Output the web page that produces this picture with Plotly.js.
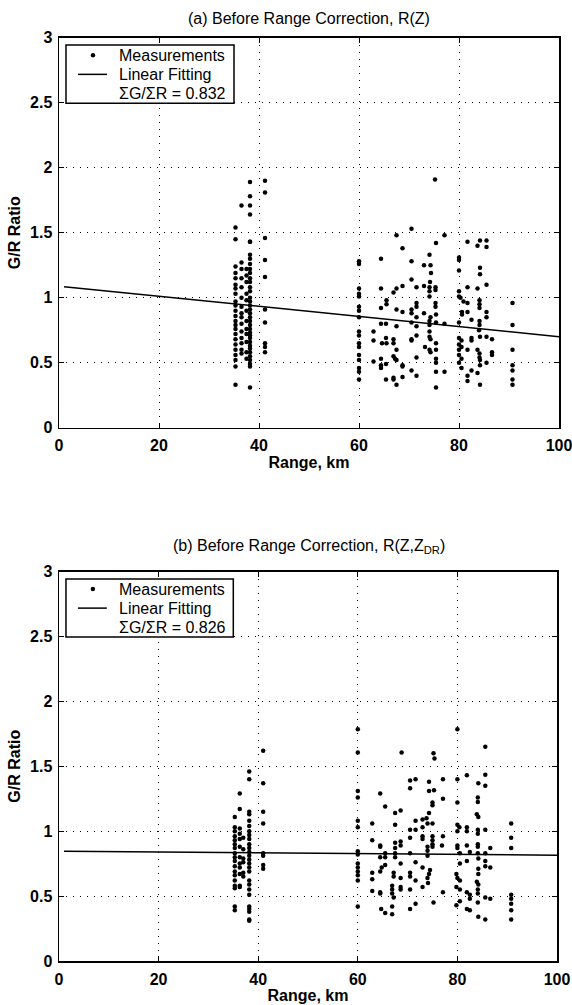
<!DOCTYPE html>
<html>
<head>
<meta charset="utf-8">
<script src="https://cdn.plot.ly/plotly-3.0.1.min.js"></script>
<style>html,body{margin:0;padding:0;background:#fff;}#chart{width:572px;height:1005px;}</style>
</head>
<body>
<div id="chart"></div>
<script>
// ---------- DATA ----------
// (a) R(Z): columns of measurements near 35-41 km
const topNearRange = [35.3, 36.5, 37.5, 38.2, 41.2];
const topNearRatio = [
  [1.54, 1.45, 1.24, 1.19, 1.15, 1.1, 1.07, 1.03, 0.97, 0.94, 0.9, 0.86, 0.82, 0.79, 0.76, 0.72, 0.68, 0.64, 0.6, 0.56, 0.52, 0.47, 0.33],
  [1.71, 1.27, 1.22, 1.15, 1.08, 1.0, 0.93, 0.88, 0.85, 0.8, 0.74, 0.69, 0.65, 0.6, 0.57],
  [1.22, 1.17, 1.12, 1.03, 0.98, 0.9, 0.82, 0.76, 0.72, 0.66, 0.58, 0.53],
  [1.89, 1.78, 1.71, 1.64, 1.43, 1.43, 1.33, 1.3, 1.26, 1.22, 1.19, 1.15, 1.12, 1.08, 1.05, 1.0, 0.97, 0.94, 0.91, 0.88, 0.85, 0.82, 0.79, 0.76, 0.73, 0.71, 0.69, 0.66, 0.63, 0.61, 0.58, 0.55, 0.52, 0.49, 0.47, 0.31],
  [1.90, 1.81, 1.46, 1.29, 1.16, 0.91, 0.81, 0.65, 0.62, 0.58]
];
// (a) R(Z): measurements 60-91 km, [range, ratio]
const topFarPoints = [
  [75.2,1.91],[70.5,1.53],[77.1,1.48],[67.5,1.48],[68.7,1.38],[75.4,1.42],
  [60,1.28],[60,1.26],[64.4,1.30],[70.5,1.28],[74.1,1.33],[73,1.25],[74.3,1.25],[74.4,1.19],[70.5,1.14],[74.2,1.12],
  [60,1.07],[60,1.03],[60,1.01],[64.4,1.07],[66.9,1.04],[67.5,1.07],[68.7,1.09],[71.5,1.08],[73,1.09],[74.1,1.08],[74.1,1.05],[74.1,1.01],[75.3,1.08],[75.3,1.06],[75.3,0.96],[75.3,0.93],
  [65.5,0.98],[65.5,0.95],[64.4,0.92],[67.5,0.91],[68.7,0.89],[70.5,0.91],[70.5,0.88],[71.5,0.96],[71.5,0.93],[71.5,0.85],[73,0.88],[74.3,0.85],[75.4,0.87],
  [60,0.93],[60,0.90],[60,0.85],[64.4,0.80],[65.4,0.80],[67.5,0.78],[70.5,0.81],[71.5,0.78],[74.1,0.82],[74.1,0.79],[75.4,0.81],[77.1,0.80],
  [60,0.74],[60,0.71],[60,0.65],[60,0.62],[62.9,0.74],[62.9,0.67],[65.4,0.69],[64.6,0.65],[65.5,0.65],[66.9,0.68],[66.9,0.65],[70.5,0.68],[70.5,0.67],[71.5,0.71],[74.1,0.74],[74.1,0.70],[74.3,0.68],[75.4,0.65],[73.2,0.62],[74.1,0.60],[74.3,0.58],[75.4,0.60],[67.5,0.60],
  [66.9,0.55],[67.2,0.53],[67.5,0.52],[60,0.56],[60,0.52],[62.9,0.51],[64.4,0.53],[64.4,0.48],[64.4,0.46],[65.4,0.49],[68.7,0.48],[68.7,0.47],[71.5,0.54],[75.4,0.53],[75.4,0.50],
  [60,0.46],[60,0.43],[60,0.37],[65.4,0.37],[66.9,0.385],[66.9,0.37],[67.5,0.33],[68.7,0.39],[70.5,0.44],[71.5,0.40],[75.4,0.43],[77.1,0.43],[75.4,0.31],
  [81.7,1.43],[83.7,1.40],[84.2,1.44],[85.5,1.44],[85.5,1.39],
  [80,1.31],[80,1.29],[80,1.21],[84.2,1.23],[84.2,1.18],
  [81.7,1.08],[83.7,1.07],[85.5,1.10],
  [80,1.05],[80,1.01],[80.3,1.0],[80.9,0.97],[81.7,0.96],[84.1,0.98],[84.1,0.95],[84.1,0.92],[90.7,0.96],
  [80.6,0.89],[80.6,0.87],[81.7,0.89],[85.5,0.89],[85.5,0.85],[82.5,0.83],[80,0.81],[84.1,0.82],[84.1,0.79],[84,0.75],[90.7,0.79],
  [80,0.69],[80.5,0.67],[82.5,0.69],[82.5,0.67],[84.2,0.70],[85.5,0.70],[86.6,0.68],
  [80,0.64],[80.5,0.62],[80,0.60],[81.7,0.60],[83.7,0.60],[84.1,0.57],[84.1,0.54],[86.6,0.58],[86.6,0.56],[90.7,0.60],
  [80,0.56],[80.5,0.53],[80,0.50],[80.5,0.46],[85.5,0.50],[84.2,0.52],[84.2,0.48],[90.7,0.48],[90.7,0.44],[90.7,0.37],[90.7,0.33],[82.5,0.44],[81.7,0.40],[81.7,0.36],[83.7,0.42],[84.2,0.33]
];
const topFitRange = [1, 100];
const topFitRatio = [1.085, 0.70];
const topSumRatio = 'ΣG/ΣR = 0.832';

// (b) R(Z,ZDR)
const botNearRange = [35.3, 36.3, 37.0, 38.2, 41.0];
const botNearRatio = [
  [1.11, 1.03, 1.0, 0.96, 0.93, 0.9, 0.87, 0.83, 0.8, 0.77, 0.73, 0.69, 0.66, 0.62, 0.58, 0.56, 0.42, 0.39],
  [1.29, 1.17, 1.02, 0.98, 0.94, 0.88, 0.80, 0.75, 0.72, 0.67, 0.58, 0.57],
  [0.95, 0.86, 0.79, 0.76, 0.68, 0.65],
  [1.46, 1.40, 1.15, 1.13, 1.08, 1.04, 1.0, 0.97, 0.94, 0.9, 0.87, 0.84, 0.81, 0.78, 0.75, 0.72, 0.69, 0.62, 0.59, 0.55, 0.51, 0.42, 0.40, 0.38, 0.32, 0.31],
  [1.62, 1.37, 1.15, 1.06, 0.83, 0.81, 0.74, 0.71]
];
const botFarPoints = [
  [60,1.785],[60,1.605],[68.8,1.605],[75.2,1.60],[75.4,1.56],[70.5,1.39],[71.6,1.40],[70.5,1.33],[74.3,1.38],[77.1,1.40],[60,1.31],[60,1.26],[64.5,1.29],[74.3,1.31],[75.3,1.315],[75,1.22],[75,1.20],[77.1,1.25],[65.5,1.19],[67.5,1.14],[68.6,1.16],[74.3,1.14],[73.8,1.10],
  [60,1.08],[60,1.03],[62.9,1.06],[67.5,1.05],[71.6,1.08],[73,1.09],[73,1.03],[74,1.06],[75,1.06],[70.5,1.01],[70.5,0.95],[71.6,1.01],[73,0.96],[73,0.94],[75,0.96],[75,0.93],[75,0.90],[75,0.88],[77.1,0.96],[62.9,0.93],[64.5,0.88],[64.5,0.89],[67.5,0.91],[68.6,0.92],[67.5,0.87],[68.6,0.89],[74,0.88],[76.9,0.89],
  [60,0.845],[60,0.82],[64.5,0.80],[65.5,0.83],[65.5,0.80],[67.5,0.83],[67.5,0.80],[70.5,0.83],[74,0.85],[74,0.81],[68.6,0.75],[71.6,0.76],
  [60,0.75],[60,0.72],[60,0.69],[60,0.66],[60,0.62],[65.5,0.74],[64.8,0.72],[62.9,0.68],[62.9,0.63],[64.5,0.69],[67.2,0.68],[67.2,0.65],[70.5,0.68],[70.5,0.65],[73,0.72],[74.5,0.70],[74.3,0.67],[74,0.64],[68.6,0.64],[71.6,0.62],
  [62.9,0.54],[64.5,0.53],[64.5,0.52],[66.9,0.58],[66.9,0.55],[66.9,0.52],[67.2,0.49],[68.6,0.57],[68.6,0.55],[70.5,0.55],[73,0.57],[74.1,0.60],[77.1,0.53],
  [60,0.42],[64.7,0.40],[65.5,0.37],[66.9,0.42],[66.9,0.36],[70.5,0.40],[71.6,0.44],[75.2,0.45],
  [80,1.785],[85.6,1.65],[80,1.40],[81.9,1.43],[85.6,1.435],[85.6,1.35],[84.2,1.37],[84.1,1.26],[84.1,1.225],[80,1.22],[83.9,1.13],[84.2,1.11],
  [80,1.05],[80.4,1.03],[80,1.00],[81.9,1.03],[81.9,1.00],[84.1,1.01],[84.1,0.98],[85.6,1.01],[90.8,1.06],[90.8,0.95],[90.8,0.87],
  [80,0.89],[80,0.87],[81.9,0.89],[84.1,0.90],[84.1,0.88],[86.6,0.87],[82.5,0.84],[80.5,0.83],[84.1,0.83],[85.6,0.83],
  [80.5,0.75],[81.9,0.77],[84.2,0.79],[85.6,0.77],[85.6,0.73],[86.6,0.72],[84.2,0.71],[84.2,0.67],
  [79.8,0.67],[80,0.64],[80.5,0.62],[83.9,0.61],[84.2,0.59],[79.8,0.57],[80.5,0.55],[81.9,0.53],[82.5,0.51],[84.1,0.55],[84.1,0.52],[85.6,0.49],[86.6,0.48],[90.8,0.51],[90.8,0.48],[90.8,0.44],[82.5,0.48],[80.5,0.46],[84.1,0.45],[79.8,0.43],[81.9,0.40],[82.5,0.39],[90.8,0.39],[90.8,0.32],[84.2,0.34],[85.6,0.32]
];
const botFitRange = [1, 100];
const botFitRatio = [0.845, 0.815];
const botSumRatio = 'ΣG/ΣR = 0.826';

const legendLabels = ['Measurements', 'Linear Fitting'];
const xTicks = [0, 20, 40, 60, 80, 100];
const yTicks = [0, 0.5, 1, 1.5, 2, 2.5, 3];
const yTickText = ['0', '0.5', '1', '1.5', '2', '2.5', '3'];

// ---------- BUILD ----------
function collect(nearRange, nearRatio, farPoints) {
  const xs = [], ys = [];
  nearRange.forEach((r, i) => nearRatio[i].forEach(v => { xs.push(r); ys.push(v); }));
  farPoints.forEach(p => { xs.push(p[0]); ys.push(p[1]); });
  return {xs, ys};
}
const topData = collect(topNearRange, topNearRatio, topFarPoints);
const botData = collect(botNearRange, botNearRatio, botFarPoints);

const FONT = 'Liberation Sans, Arial, Helvetica, sans-serif';

function traces(data, fitX, fitY, xa, ya) {
  return [
    {type:'scatter', mode:'markers', x:data.xs, y:data.ys, xaxis:xa, yaxis:ya,
     name:legendLabels[0], showlegend:false, marker:{color:'#000', size:4.5}},
    {type:'scatter', mode:'lines', x:fitX, y:fitY, xaxis:xa, yaxis:ya,
     name:legendLabels[1], showlegend:false, line:{color:'#000', width:1.5}}
  ];
}

const data = [
  ...traces(topData, topFitRange, topFitRatio, 'x', 'y'),
  ...traces(botData, botFitRange, botFitRatio, 'x2', 'y2')
];

function xAxis(domain, anchor) {
  return {
    domain: domain, anchor: anchor, range:[0,100], tickvals:xTicks, ticks:'inside', ticklen:5,
    tickwidth:1, tickcolor:'#000', mirror:'allticks', showline:true, linewidth:1.5, linecolor:'#000',
    showgrid:true, gridcolor:'#000', gridwidth:1, griddash:'1px,6px', zeroline:false,
    ticklabelstandoff:3, ticklabeloverflow:'allow',
    tickfont:{family:FONT, size:16, color:'#000', weight:'bold'},
    title:{text:'Range, km', font:{family:FONT, size:16, color:'#000', weight:'bold'}, standoff:3}
  };
}
function yAxis(domain, anchor) {
  return {
    domain: domain, anchor: anchor, range:[0,3], tickvals:yTicks, ticktext:yTickText, ticks:'inside', ticklen:5,
    tickwidth:1, tickcolor:'#000', mirror:'allticks', showline:true, linewidth:1.5, linecolor:'#000',
    showgrid:true, gridcolor:'#000', gridwidth:1, griddash:'1px,6px', zeroline:false,
    ticklabelstandoff:2, ticklabeloverflow:'allow',
    tickfont:{family:FONT, size:16, color:'#000', weight:'bold'},
    title:{text:'G/R Ratio', font:{family:FONT, size:16, color:'#000', weight:'bold'}, standoff:5}
  };
}

// legend box drawn inside each panel (positions in axis-domain fractions)
function legendShapes(xa, ya) {
  const xr = xa + ' domain', yr = ya + ' domain';
  return [
    {type:'rect', xref:xr, yref:yr, x0:0.014, x1:0.35, y0:0.832, y1:0.981,
     fillcolor:'#fff', line:{color:'#000', width:1.5}, layer:'above'},
    {type:'circle', xref:xr, yref:yr, xsizemode:'pixel', ysizemode:'pixel', xanchor:0.068, yanchor:0.955,
     x0:-2.2, x1:2.2, y0:-2.2, y1:2.2, fillcolor:'#000', line:{width:0}, layer:'above'},
    {type:'line', xref:xr, yref:yr, x0:0.038, x1:0.096, y0:0.906, y1:0.906,
     line:{color:'#000', width:1.5}, layer:'above'}
  ];
}
function legendTexts(xa, ya, sumText) {
  const xr = xa + ' domain', yr = ya + ' domain';
  const base = {xref:xr, yref:yr, x:0.116, xanchor:'left', yanchor:'middle', showarrow:false,
                font:{family:FONT, size:16, color:'#000'}};
  return [
    Object.assign({}, base, {text:legendLabels[0], y:0.955}),
    Object.assign({}, base, {text:legendLabels[1], y:0.906}),
    Object.assign({}, base, {text:sumText, y:0.856})
  ];
}

const H = 1005;
const layout = {
  width:572, height:H,
  margin:{l:59, r:13, t:0, b:0},
  paper_bgcolor:'#fff', plot_bgcolor:'#fff',
  font:{family:FONT, color:'#000'},
  showlegend:false,
  xaxis: xAxis([0,1], 'y'),
  yaxis: yAxis([1-427.7/H, 1-37.7/H], 'x'),
  xaxis2: xAxis([0,0.996], 'y2'),
  yaxis2: yAxis([1-961/H, 1-571.5/H], 'x2'),
  shapes: [...legendShapes('x','y'), ...legendShapes('x2','y2')],
  annotations:[
    {text:'(a) Before Range Correction, R(Z)', xref:'paper', yref:'paper', x:0.5, y:1-18.3/H,
     xanchor:'center', yanchor:'middle', showarrow:false, font:{family:FONT, size:16, color:'#000'}},
    {text:'(b) Before Range Correction, R(Z,Z<sub>DR</sub>)', xref:'paper', yref:'paper', x:0.5, y:1-546.7/H,
     xanchor:'center', yanchor:'middle', showarrow:false, font:{family:FONT, size:16, color:'#000'}},
    ...legendTexts('x','y', topSumRatio),
    ...legendTexts('x2','y2', botSumRatio)
  ]
};

Plotly.newPlot('chart', data, layout, {displayModeBar:false, staticPlot:true});
</script>
</body>
</html>
